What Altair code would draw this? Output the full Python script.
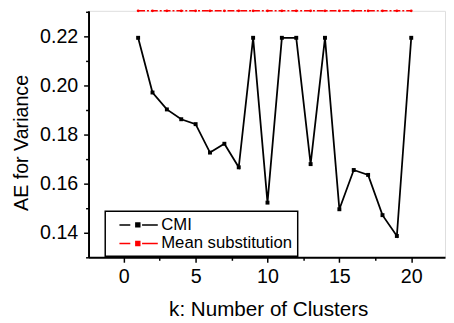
import altair as alt
import pandas as pd

# ---- data ----
k_values = list(range(1, 21))
cmi_values = [0.2195, 0.1972, 0.1903, 0.1863, 0.1843, 0.1727, 0.1763, 0.1667, 0.2195, 0.1523,
              0.2195, 0.2195, 0.1680, 0.2195, 0.1496, 0.1656, 0.1636, 0.1472, 0.1387, 0.2195]
mean_sub_values = [0.2305, 0.2305, 0.2305, 0.2305, 0.2305, 0.2305, 0.2305, 0.2305, 0.2305, 0.2305,
                   0.2305, 0.2305, 0.2305, 0.2305, 0.2305, 0.2305, 0.2305, 0.2305, 0.2305, 0.2305]
series_names = ["CMI", "Mean substitution"]
series_colors = ["#000000", "#ff0000"]
x_tick_values = [0, 2.5, 5, 7.5, 10, 12.5, 15, 17.5, 20]
y_tick_values = [0.13, 0.14, 0.15, 0.16, 0.17, 0.18, 0.19, 0.20, 0.21, 0.22, 0.23]

rows = []
for kk, v in zip(k_values, cmi_values):
    rows.append({"k": kk, "value": v, "series": series_names[0]})
for kk, v in zip(k_values, mean_sub_values):
    rows.append({"k": kk, "value": v, "series": series_names[1]})
df = pd.DataFrame(rows)

FONT = "Liberation Sans"

x_axis = alt.Axis(
    values=x_tick_values, title="k: Number of Clusters",
    labelExpr="datum.value % 5 == 0 ? datum.label : ''",
    tickSize={"condition": {"test": "datum.value % 5 == 0", "value": 5}, "value": 3},
    grid=False, domainColor="black", domainWidth=2, tickColor="black", tickWidth=1.5,
    labelFont=FONT, labelFontSize=20, labelColor="black", labelPadding=5,
    labelFlush=False, labelOverlap=False,
    titleFont=FONT, titleFontSize=21, titleFontWeight="normal", titleColor="black",
    titleBaseline="alphabetic", titleY=59, titleX=183, titleAnchor="middle",
)
y_axis = alt.Axis(
    values=y_tick_values, title="AE for Variance",
    labelExpr="round(datum.value * 100) % 2 == 0 ? format(datum.value, '.2f') : ''",
    tickSize={"condition": {"test": "round(datum.value * 100) % 2 == 0", "value": 5}, "value": 3},
    grid=False, domainColor="black", domainWidth=2, tickColor="black", tickWidth=1.5,
    labelFont=FONT, labelFontSize=20, labelColor="black", labelPadding=6,
    labelFlush=False, labelOverlap=False,
    titleFont=FONT, titleFontSize=20, titleFontWeight="normal", titleColor="black",
    titleAngle=-90, titleBaseline="alphabetic", titleAlign="center",
    titleX=-62, titleY=134,
)

x_enc = alt.X("k:Q", scale=alt.Scale(domain=[-2.45, 22.35], nice=False, zero=False), axis=x_axis)
y_enc = alt.Y("value:Q", scale=alt.Scale(domain=[0.13, 0.2305], nice=False, zero=False), axis=y_axis)

sym_path = "M-2.44,0H-1.06M-0.35,-0.25H0.15V0.25H-0.35ZM0.44,0H2.44"
legend = alt.Legend(
    title=None, orient="none", legendX=17, legendY=204,
    symbolType=sym_path, symbolSize=256, symbolStrokeWidth=1.5, symbolOffset=20,
    labelFont=FONT, labelFontSize=17, labelColor="black", labelOffset=14,
    strokeColor="black", fillColor="white", padding=5, rowPadding=2,
)
color_scale = alt.Scale(domain=series_names, range=series_colors)

base = alt.Chart(df)

line_cmi = base.transform_filter(alt.datum.series == series_names[0]).mark_line(
    strokeWidth=1.8).encode(
    x=x_enc, y=y_enc, stroke=alt.Stroke("series:N", scale=color_scale, legend=legend))
line_mean = base.transform_filter(alt.datum.series == series_names[1]).mark_line(
    strokeWidth=1.6, strokeDash=[7, 2, 2, 2]).encode(
    x=x_enc, y=y_enc, stroke=alt.Stroke("series:N", scale=color_scale, legend=legend))
pts_cmi = base.transform_filter(alt.datum.series == series_names[0]).mark_point(
    shape="square", filled=True, size=16, opacity=1).encode(
    x=x_enc, y=y_enc, fill=alt.Fill("series:N", scale=color_scale, legend=legend))
pts_mean = base.transform_filter(alt.datum.series == series_names[1]).mark_point(
    shape="circle", filled=True, size=8, opacity=1).encode(
    x=x_enc, y=y_enc, fill=alt.Fill("series:N", scale=color_scale, legend=legend))

chart = alt.layer(line_cmi, line_mean, pts_cmi, pts_mean).properties(
    width=363, height=251,
    autosize=alt.AutoSizeParams(type="none"),
    padding={"left": 82, "top": 0, "right": 1, "bottom": 64},
).configure_view(stroke=None).configure(background="white").configure_legend(strokeWidth=1.5)

chart.save("out.html", embed_options={"renderer": "svg", "actions": False})
